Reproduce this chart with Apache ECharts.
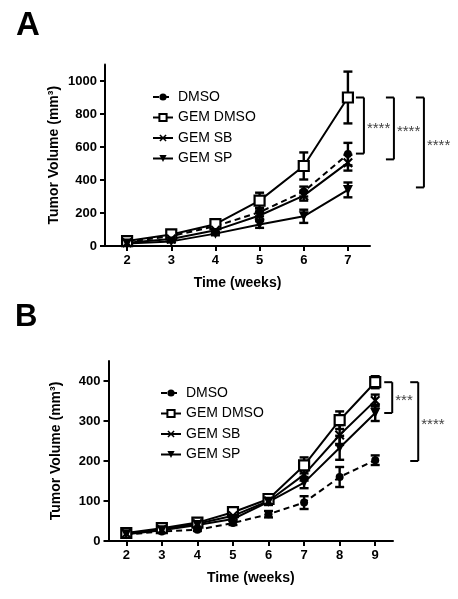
<!DOCTYPE html>
<html><head><meta charset="utf-8">
<script src="https://cdn.jsdelivr.net/npm/echarts@6/dist/echarts.min.js"></script>
<style>html,body{margin:0;padding:0;background:#fff}#c{width:458px;height:599px}</style>
</head><body><div id="c"></div>
<script>
// ---------- Data ----------
const seriesNames = ['DMSO', 'GEM DMSO', 'GEM SB', 'GEM SP'];

// Panel A
const weeksA = [2, 3, 4, 5, 6, 7];
const dmsoA = [25, 60, 120, 205, 330, 557];
const dmsoAErr = [5, 8, 14, 25, 30, 68];
const gemDmsoA = [30, 70, 132, 275, 485, 900];
const gemDmsoAErr = [6, 10, 18, 48, 82, 157];
const gemSbA = [20, 42, 95, 185, 305, 505];
const gemSbAErr = [4, 8, 12, 25, 30, 48];
const gemSpA = [15, 28, 75, 130, 180, 340];
const gemSpAErr = [4, 6, 10, 20, 40, 45];
const yTicksA = [0, 200, 400, 600, 800, 1000];
const bracketsA = [[900, 560, '****'], [900, 525, '****'], [900, 355, '****']];

// Panel B
const weeksB = [2, 3, 4, 5, 6, 7, 8, 9];
const dmsoB = [16, 24, 28, 45, 67, 96, 160, 202];
const dmsoBErr = [3, 3, 3, 5, 8, 16, 25, 12];
const gemDmsoB = [20, 32, 46, 72, 105, 189, 302, 397];
const gemDmsoBErr = [4, 4, 4, 6, 8, 20, 22, 15];
const gemSbB = [19, 29, 43, 63, 100, 166, 265, 351];
const gemSbBErr = [3, 4, 4, 6, 8, 15, 25, 15];
const gemSpB = [17, 27, 40, 55, 98, 146, 233, 320];
const gemSpBErr = [3, 3, 4, 5, 8, 14, 30, 20];
const yTicksB = [0, 100, 200, 300, 400];
const bracketsB = [[397, 320, '***'], [397, 200, '****']];

// ---------- Rendering ----------
const FONT = 'Liberation Sans, Arial, sans-serif';
const crossPath = 'path://M0,1.5L1.5,0L5,3.5L8.5,0L10,1.5L6.5,5L10,8.5L8.5,10L5,6.5L1.5,10L0,8.5L3.5,5Z';
const triDownPath = 'path://M0,0L10,0L5,9Z';
const styles = {
  'DMSO': {symbol: 'circle', symbolSize: 8, type: [6, 4], fill: '#000'},
  'GEM DMSO': {symbol: 'rect', symbolSize: 10, type: 'solid', fill: '#fff'},
  'GEM SB': {symbol: crossPath, symbolSize: 10, type: 'solid', fill: '#000'},
  'GEM SP': {symbol: triDownPath, symbolSize: 10, type: 'solid', fill: '#000'}
};

function lineSeries(name, xs, ys, idx) {
  const s = styles[name];
  return {
    type: 'line', name: name, xAxisIndex: idx, yAxisIndex: idx,
    data: xs.map((x, i) => [x, ys[i]]),
    symbol: s.symbol, symbolSize: s.symbolSize, showAllSymbol: true,
    lineStyle: {color: '#000', width: 2, type: s.type},
    itemStyle: {color: s.fill, borderColor: '#000', borderWidth: name === 'GEM DMSO' ? 2.2 : 0},
    z: 3, animation: false
  };
}

function errSeries(xs, ys, es, idx) {
  return {
    type: 'custom', xAxisIndex: idx, yAxisIndex: idx,
    data: xs.map((x, i) => [x, ys[i] - es[i], ys[i] + es[i]]),
    encode: {x: 0, y: [1, 2]},
    z: 2, animation: false, silent: true,
    renderItem: function (params, api) {
      const x = api.value(0);
      const p1 = api.coord([x, api.value(2)]);
      const p2 = api.coord([x, api.value(1)]);
      const w = 4.5;
      const st = {stroke: '#000', lineWidth: 2.4};
      return {type: 'group', children: [
        {type: 'line', shape: {x1: p1[0], y1: p1[1], x2: p2[0], y2: p2[1]}, style: st},
        {type: 'line', shape: {x1: p1[0] - w, y1: p1[1], x2: p1[0] + w, y2: p1[1]}, style: st},
        {type: 'line', shape: {x1: p2[0] - w, y1: p2[1], x2: p2[0] + w, y2: p2[1]}, style: st}
      ]};
    }
  };
}

function bracketSeries(brackets, xLast, offsets, idx) {
  return {
    type: 'custom', xAxisIndex: idx, yAxisIndex: idx, clip: false,
    data: brackets.map((b, i) => [xLast, b[0], b[1], i]),
    encode: {x: 0, y: [1, 2]},
    animation: false, silent: true,
    renderItem: function (params, api) {
      const i = api.value(3);
      const top = api.coord([xLast, api.value(1)]);
      const bot = api.coord([xLast, api.value(2)]);
      const xv = top[0] + offsets[i];
      const st = {stroke: '#000', lineWidth: 2};
      return {type: 'group', children: [
        {type: 'line', shape: {x1: xv - 8, y1: top[1], x2: xv, y2: top[1]}, style: st},
        {type: 'line', shape: {x1: xv, y1: top[1], x2: xv, y2: bot[1]}, style: st},
        {type: 'line', shape: {x1: xv - 8, y1: bot[1], x2: xv, y2: bot[1]}, style: st},
        {type: 'text', x: xv + 3, y: (top[1] + bot[1]) / 2 + 3,
         style: {text: brackets[i][2], fill: '#444', font: '15px ' + FONT, textAlign: 'left', textVerticalAlign: 'middle'}}
      ]};
    }
  };
}

const axisLine = {show: true, lineStyle: {color: '#000', width: 2}};
const axisTick = {show: true, length: 5, lineStyle: {color: '#000', width: 2}};
const labelStyle = {color: '#000', fontSize: 13, fontWeight: 'bold', fontFamily: FONT, formatter: v => String(v)};
const nameStyle = {color: '#000', fontSize: 14, fontWeight: 'bold', fontFamily: FONT};

function xAxis(idx, min, max, ticks) {
  return {
    type: 'value', gridIndex: idx, min: min, max: max, interval: 0.5,
    name: 'Time (weeks)', nameLocation: 'middle', nameGap: 30, nameMoveOverlap: false, nameTextStyle: nameStyle,
    axisLine: axisLine, splitLine: {show: false},
    axisTick: Object.assign({customValues: ticks}, axisTick),
    axisLabel: Object.assign({customValues: ticks, margin: 8}, labelStyle)
  };
}
function yAxis(idx, max, ticks, interval, gap) {
  return {
    type: 'value', gridIndex: idx, min: 0, max: max, interval: interval,
    name: 'Tumor Volume (mm³)', nameLocation: 'middle', nameGap: gap, nameMoveOverlap: false, nameTextStyle: nameStyle,
    axisLine: axisLine, splitLine: {show: false},
    axisTick: Object.assign({customValues: ticks}, axisTick),
    axisLabel: Object.assign({customValues: ticks, margin: 8}, labelStyle)
  };
}

const groupsA = [[dmsoA, dmsoAErr], [gemDmsoA, gemDmsoAErr], [gemSbA, gemSbAErr], [gemSpA, gemSpAErr]];
const groupsB = [[dmsoB, dmsoBErr], [gemDmsoB, gemDmsoBErr], [gemSbB, gemSbBErr], [gemSpB, gemSpBErr]];

const series = [];
seriesNames.forEach((n, i) => {
  series.push(lineSeries(n, weeksA, groupsA[i][0], 0));
  series.push(errSeries(weeksA, groupsA[i][0], groupsA[i][1], 0));
});
seriesNames.forEach((n, i) => {
  series.push(lineSeries(n, weeksB, groupsB[i][0], 1));
  series.push(errSeries(weeksB, groupsB[i][0], groupsB[i][1], 1));
});
series.push(bracketSeries(bracketsA, weeksA[weeksA.length - 1], [16, 46, 76], 0));
series.push(bracketSeries(bracketsB, weeksB[weeksB.length - 1], [17, 43], 1));

const legendCommon = {
  orient: 'vertical', itemWidth: 20, itemHeight: 9, itemGap: 6.5,
  selectedMode: false,
  textStyle: {color: '#000', fontSize: 14, fontFamily: FONT},
  data: seriesNames
};

const chart = echarts.init(document.getElementById('c'), null, {renderer: 'canvas'});
chart.setOption({
  backgroundColor: '#fff',
  animation: false,
  title: [
    {text: 'A', left: 11, top: 4, textStyle: {fontSize: 33, fontWeight: 'bold', color: '#000', fontFamily: FONT}},
    {text: 'B', left: 10, top: 297, textStyle: {fontSize: 31, fontWeight: 'bold', color: '#000', fontFamily: FONT}}
  ],
  grid: [
    {left: 105, right: 88, top: 64.5, bottom: 353, containLabel: false},
    {left: 108.5, right: 65, top: 361, bottom: 58, containLabel: false}
  ],
  xAxis: [xAxis(0, 1.5, 7.5, weeksA), xAxis(1, 1.5, 9.5, weeksB)],
  yAxis: [yAxis(0, 1100, yTicksA, 100, 44), yAxis(1, 450, yTicksB, 50, 45)],
  legend: [
    Object.assign({left: 147, top: 85}, legendCommon),
    Object.assign({left: 155, top: 381}, legendCommon)
  ],
  series: series
});
</script>
</body></html>
